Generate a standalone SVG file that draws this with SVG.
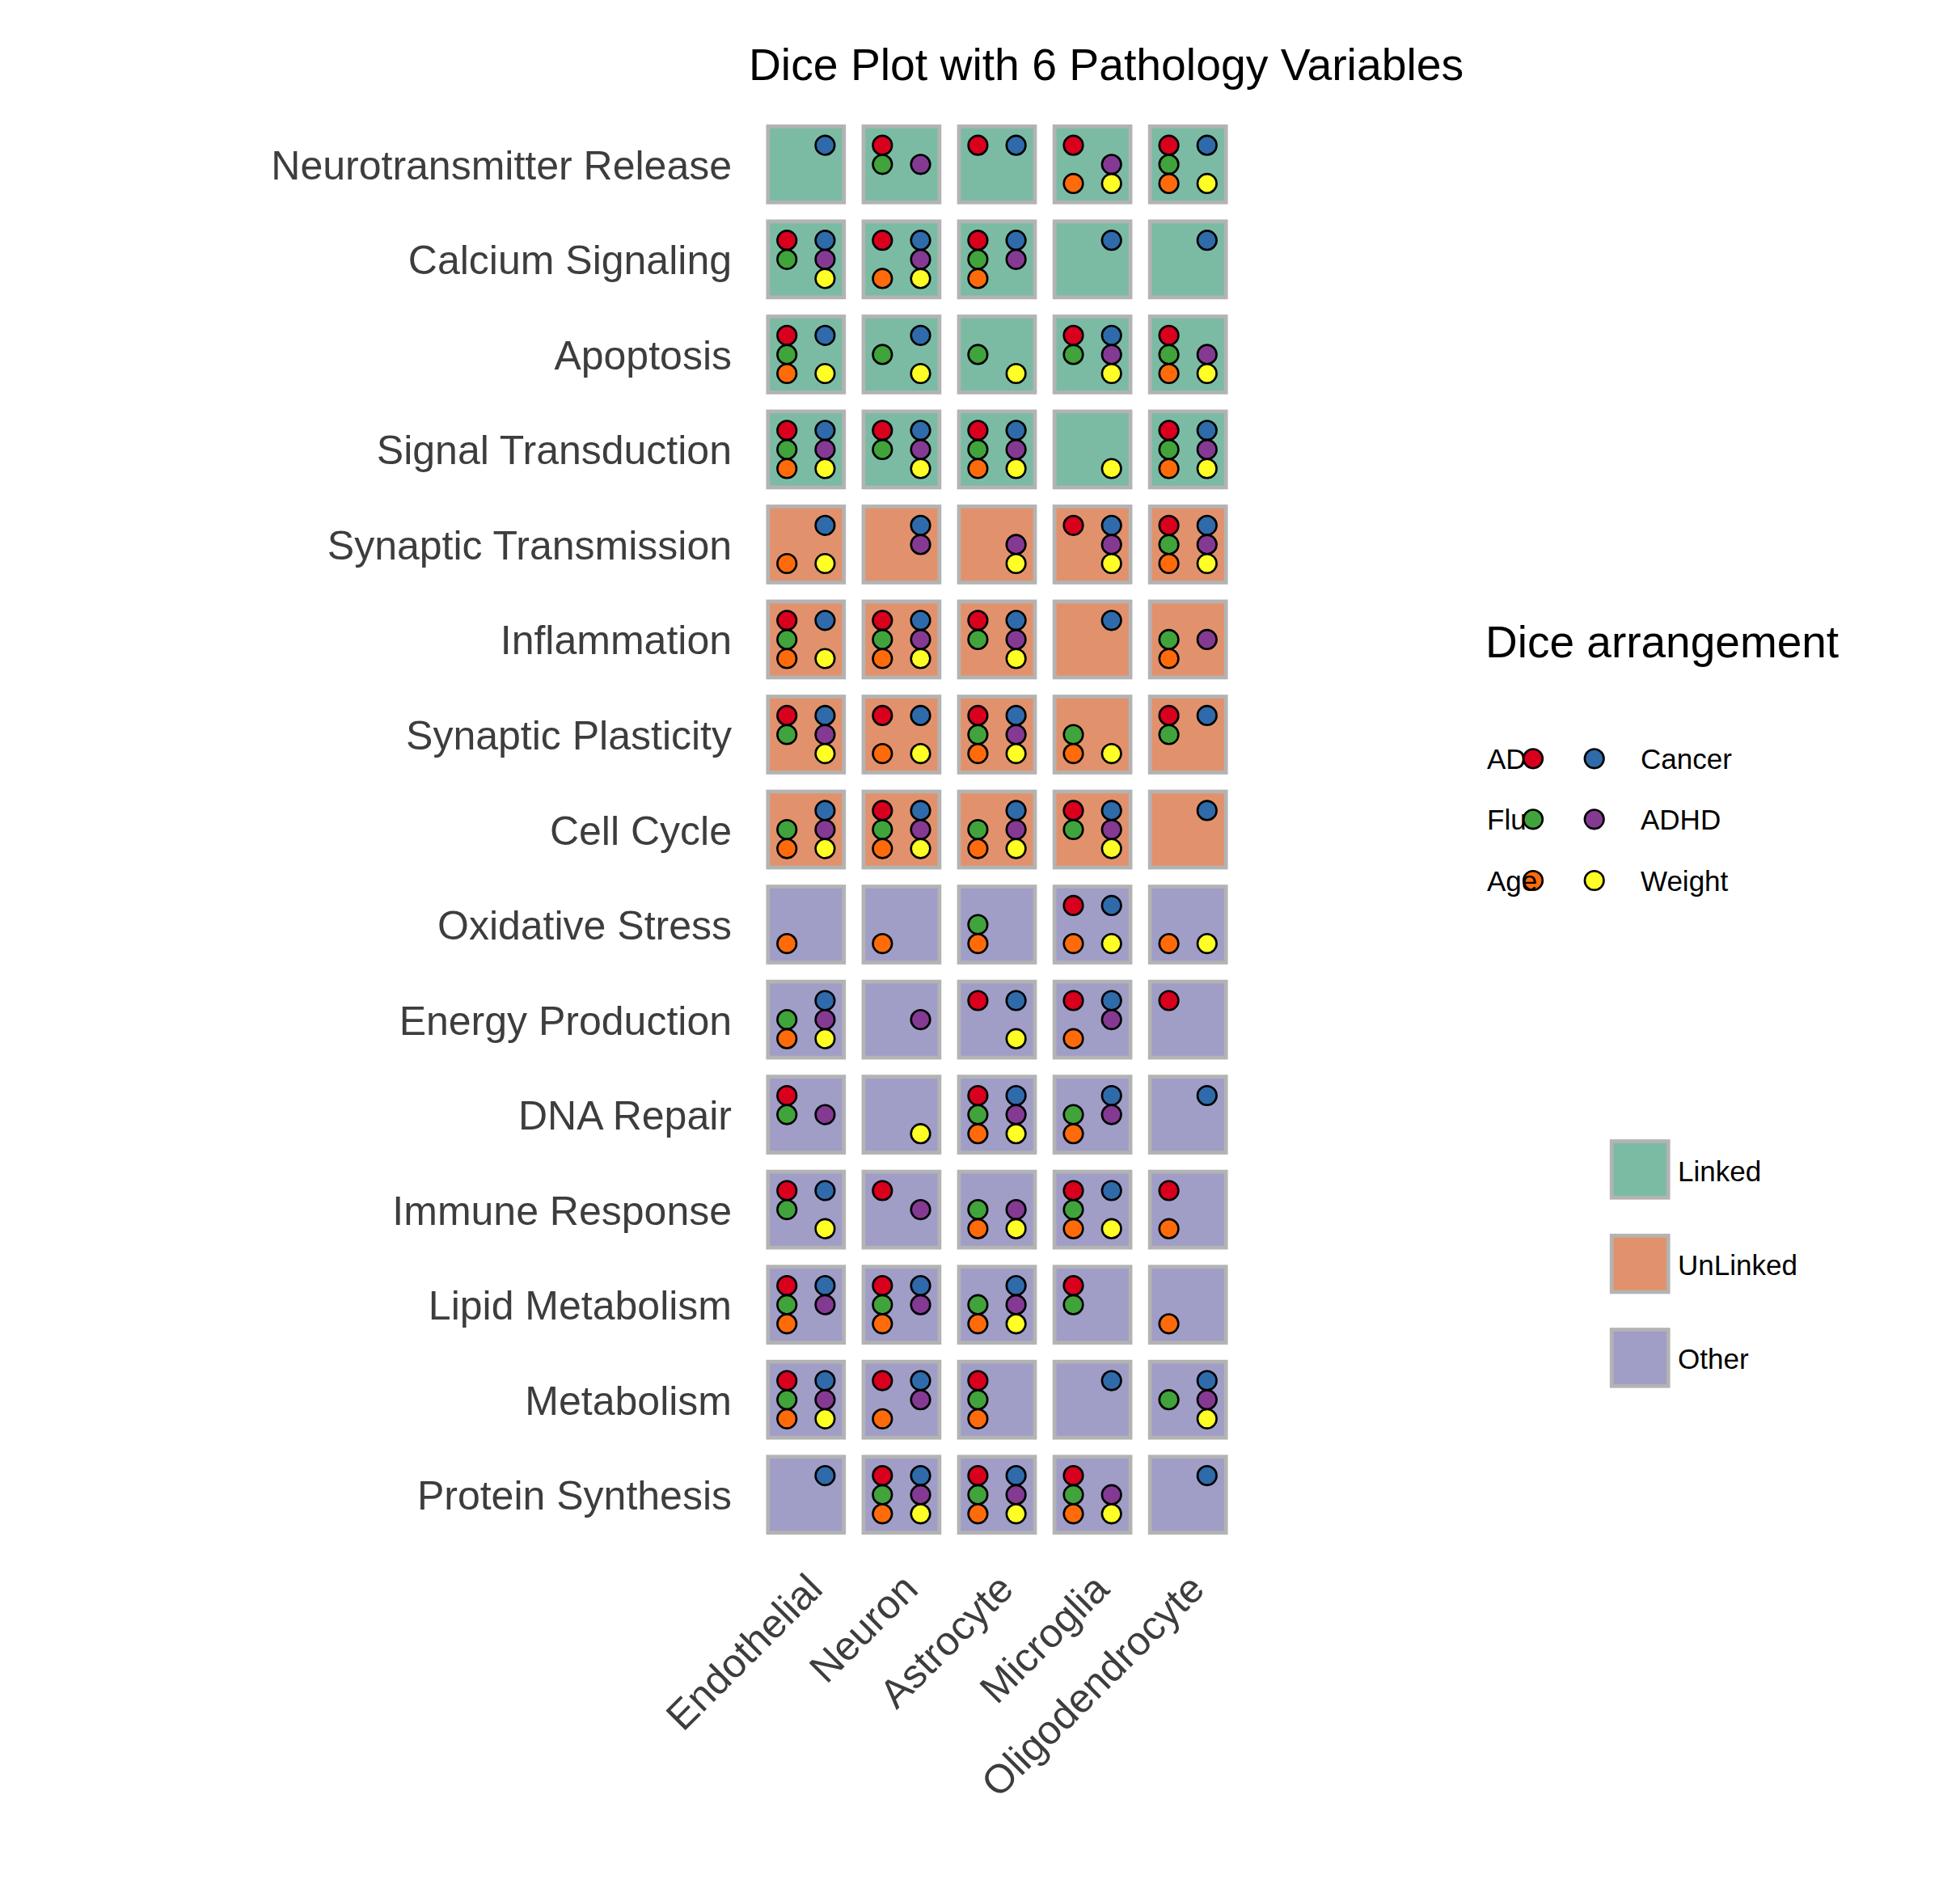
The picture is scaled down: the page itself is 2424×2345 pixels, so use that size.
<svg xmlns="http://www.w3.org/2000/svg" xmlns:xlink="http://www.w3.org/1999/xlink" width="2424" height="2345" viewBox="0 0 2424 2345">
<style>
text{font-family:"Liberation Sans",Arial,Helvetica,sans-serif}
.title{font-size:55.3px;fill:#000}
.ylab{font-size:50px;fill:#3d3d3d;text-anchor:end}
.xlab{font-size:50px;fill:#3d3d3d;text-anchor:end}
.ltitle{font-size:55px;fill:#000}
.llab{font-size:35px;fill:#000}
.tile{stroke:#b3b3b3;stroke-width:4.7}
.lk{fill:#7bbba4}
.ul{fill:#e1926c}
.ot{fill:#a09dc7}
.dot{stroke:#000;stroke-width:2.6}
.cA{fill:#d9001e}.cC{fill:#2f6baa}.cF{fill:#41a33b}.cH{fill:#843a92}.cG{fill:#ff6b0a}.cW{fill:#ffff26}
</style>
<defs>
<circle id="a" class="dot cA" cx="-23.6" cy="-23.6" r="11.8"/>
<circle id="c" class="dot cC" cx="23.6" cy="-23.6" r="11.8"/>
<circle id="f" class="dot cF" cx="-23.6" cy="0" r="11.8"/>
<circle id="h" class="dot cH" cx="23.6" cy="0" r="11.8"/>
<circle id="g" class="dot cG" cx="-23.6" cy="23.6" r="11.8"/>
<circle id="w" class="dot cW" cx="23.6" cy="23.6" r="11.8"/>
</defs>
<rect width="2424" height="2345" fill="#fff"/>
<text class="title" x="1368" y="99" text-anchor="middle">Dice Plot with 6 Pathology Variables</text>
<g id="y-axis-labels">
<text class="ylab" x="905" y="221.8">Neurotransmitter Release</text>
<text class="ylab" x="905" y="339.3">Calcium Signaling</text>
<text class="ylab" x="905" y="456.9">Apoptosis</text>
<text class="ylab" x="905" y="574.4">Signal Transduction</text>
<text class="ylab" x="905" y="691.9">Synaptic Transmission</text>
<text class="ylab" x="905" y="809.4">Inflammation</text>
<text class="ylab" x="905" y="927.0">Synaptic Plasticity</text>
<text class="ylab" x="905" y="1044.5">Cell Cycle</text>
<text class="ylab" x="905" y="1162.0">Oxidative Stress</text>
<text class="ylab" x="905" y="1279.6">Energy Production</text>
<text class="ylab" x="905" y="1397.1">DNA Repair</text>
<text class="ylab" x="905" y="1514.6">Immune Response</text>
<text class="ylab" x="905" y="1632.2">Lipid Metabolism</text>
<text class="ylab" x="905" y="1749.7">Metabolism</text>
<text class="ylab" x="905" y="1867.2">Protein Synthesis</text>
</g>
<g id="x-axis-labels">
<text class="xlab" x="1019.8" y="1968" transform="rotate(-45 1019.8 1968)">Endothelial</text>
<text class="xlab" x="1137.9" y="1968" transform="rotate(-45 1137.9 1968)">Neuron</text>
<text class="xlab" x="1256.0" y="1968" transform="rotate(-45 1256.0 1968)">Astrocyte</text>
<text class="xlab" x="1374.1" y="1968" transform="rotate(-45 1374.1 1968)">Microglia</text>
<text class="xlab" x="1492.2" y="1968" transform="rotate(-45 1492.2 1968)">Oligodendrocyte</text>
</g>
<g id="tiles">
<!-- Row 1 Neurotransmitter Release -->
<g id="t-1-1" transform="translate(996.8 203.3)"><rect class="tile lk" x="-47" y="-47" width="94" height="94"/><use href="#c"/></g>
<g id="t-1-2" transform="translate(1114.9 203.3)"><rect class="tile lk" x="-47" y="-47" width="94" height="94"/><use href="#a"/><use href="#f"/><use href="#h"/></g>
<g id="t-1-3" transform="translate(1233.0 203.3)"><rect class="tile lk" x="-47" y="-47" width="94" height="94"/><use href="#a"/><use href="#c"/></g>
<g id="t-1-4" transform="translate(1351.1 203.3)"><rect class="tile lk" x="-47" y="-47" width="94" height="94"/><use href="#a"/><use href="#h"/><use href="#g"/><use href="#w"/></g>
<g id="t-1-5" transform="translate(1469.2 203.3)"><rect class="tile lk" x="-47" y="-47" width="94" height="94"/><use href="#a"/><use href="#c"/><use href="#f"/><use href="#g"/><use href="#w"/></g>
<!-- Row 2 Calcium Signaling -->
<g id="t-2-1" transform="translate(996.8 320.8)"><rect class="tile lk" x="-47" y="-47" width="94" height="94"/><use href="#a"/><use href="#c"/><use href="#f"/><use href="#h"/><use href="#w"/></g>
<g id="t-2-2" transform="translate(1114.9 320.8)"><rect class="tile lk" x="-47" y="-47" width="94" height="94"/><use href="#a"/><use href="#c"/><use href="#h"/><use href="#g"/><use href="#w"/></g>
<g id="t-2-3" transform="translate(1233.0 320.8)"><rect class="tile lk" x="-47" y="-47" width="94" height="94"/><use href="#a"/><use href="#c"/><use href="#f"/><use href="#h"/><use href="#g"/></g>
<g id="t-2-4" transform="translate(1351.1 320.8)"><rect class="tile lk" x="-47" y="-47" width="94" height="94"/><use href="#c"/></g>
<g id="t-2-5" transform="translate(1469.2 320.8)"><rect class="tile lk" x="-47" y="-47" width="94" height="94"/><use href="#c"/></g>
<!-- Row 3 Apoptosis -->
<g id="t-3-1" transform="translate(996.8 438.4)"><rect class="tile lk" x="-47" y="-47" width="94" height="94"/><use href="#a"/><use href="#c"/><use href="#f"/><use href="#g"/><use href="#w"/></g>
<g id="t-3-2" transform="translate(1114.9 438.4)"><rect class="tile lk" x="-47" y="-47" width="94" height="94"/><use href="#c"/><use href="#f"/><use href="#w"/></g>
<g id="t-3-3" transform="translate(1233.0 438.4)"><rect class="tile lk" x="-47" y="-47" width="94" height="94"/><use href="#f"/><use href="#w"/></g>
<g id="t-3-4" transform="translate(1351.1 438.4)"><rect class="tile lk" x="-47" y="-47" width="94" height="94"/><use href="#a"/><use href="#c"/><use href="#f"/><use href="#h"/><use href="#w"/></g>
<g id="t-3-5" transform="translate(1469.2 438.4)"><rect class="tile lk" x="-47" y="-47" width="94" height="94"/><use href="#a"/><use href="#f"/><use href="#h"/><use href="#g"/><use href="#w"/></g>
<!-- Row 4 Signal Transduction -->
<g id="t-4-1" transform="translate(996.8 555.9)"><rect class="tile lk" x="-47" y="-47" width="94" height="94"/><use href="#a"/><use href="#c"/><use href="#f"/><use href="#h"/><use href="#g"/><use href="#w"/></g>
<g id="t-4-2" transform="translate(1114.9 555.9)"><rect class="tile lk" x="-47" y="-47" width="94" height="94"/><use href="#a"/><use href="#c"/><use href="#f"/><use href="#h"/><use href="#w"/></g>
<g id="t-4-3" transform="translate(1233.0 555.9)"><rect class="tile lk" x="-47" y="-47" width="94" height="94"/><use href="#a"/><use href="#c"/><use href="#f"/><use href="#h"/><use href="#g"/><use href="#w"/></g>
<g id="t-4-4" transform="translate(1351.1 555.9)"><rect class="tile lk" x="-47" y="-47" width="94" height="94"/><use href="#w"/></g>
<g id="t-4-5" transform="translate(1469.2 555.9)"><rect class="tile lk" x="-47" y="-47" width="94" height="94"/><use href="#a"/><use href="#c"/><use href="#f"/><use href="#h"/><use href="#g"/><use href="#w"/></g>
<!-- Row 5 Synaptic Transmission -->
<g id="t-5-1" transform="translate(996.8 673.4)"><rect class="tile ul" x="-47" y="-47" width="94" height="94"/><use href="#c"/><use href="#g"/><use href="#w"/></g>
<g id="t-5-2" transform="translate(1114.9 673.4)"><rect class="tile ul" x="-47" y="-47" width="94" height="94"/><use href="#c"/><use href="#h"/></g>
<g id="t-5-3" transform="translate(1233.0 673.4)"><rect class="tile ul" x="-47" y="-47" width="94" height="94"/><use href="#h"/><use href="#w"/></g>
<g id="t-5-4" transform="translate(1351.1 673.4)"><rect class="tile ul" x="-47" y="-47" width="94" height="94"/><use href="#a"/><use href="#c"/><use href="#h"/><use href="#w"/></g>
<g id="t-5-5" transform="translate(1469.2 673.4)"><rect class="tile ul" x="-47" y="-47" width="94" height="94"/><use href="#a"/><use href="#c"/><use href="#f"/><use href="#h"/><use href="#g"/><use href="#w"/></g>
<!-- Row 6 Inflammation -->
<g id="t-6-1" transform="translate(996.8 790.9)"><rect class="tile ul" x="-47" y="-47" width="94" height="94"/><use href="#a"/><use href="#c"/><use href="#f"/><use href="#g"/><use href="#w"/></g>
<g id="t-6-2" transform="translate(1114.9 790.9)"><rect class="tile ul" x="-47" y="-47" width="94" height="94"/><use href="#a"/><use href="#c"/><use href="#f"/><use href="#h"/><use href="#g"/><use href="#w"/></g>
<g id="t-6-3" transform="translate(1233.0 790.9)"><rect class="tile ul" x="-47" y="-47" width="94" height="94"/><use href="#a"/><use href="#c"/><use href="#f"/><use href="#h"/><use href="#w"/></g>
<g id="t-6-4" transform="translate(1351.1 790.9)"><rect class="tile ul" x="-47" y="-47" width="94" height="94"/><use href="#c"/></g>
<g id="t-6-5" transform="translate(1469.2 790.9)"><rect class="tile ul" x="-47" y="-47" width="94" height="94"/><use href="#f"/><use href="#h"/><use href="#g"/></g>
<!-- Row 7 Synaptic Plasticity -->
<g id="t-7-1" transform="translate(996.8 908.5)"><rect class="tile ul" x="-47" y="-47" width="94" height="94"/><use href="#a"/><use href="#c"/><use href="#f"/><use href="#h"/><use href="#w"/></g>
<g id="t-7-2" transform="translate(1114.9 908.5)"><rect class="tile ul" x="-47" y="-47" width="94" height="94"/><use href="#a"/><use href="#c"/><use href="#g"/><use href="#w"/></g>
<g id="t-7-3" transform="translate(1233.0 908.5)"><rect class="tile ul" x="-47" y="-47" width="94" height="94"/><use href="#a"/><use href="#c"/><use href="#f"/><use href="#h"/><use href="#g"/><use href="#w"/></g>
<g id="t-7-4" transform="translate(1351.1 908.5)"><rect class="tile ul" x="-47" y="-47" width="94" height="94"/><use href="#f"/><use href="#g"/><use href="#w"/></g>
<g id="t-7-5" transform="translate(1469.2 908.5)"><rect class="tile ul" x="-47" y="-47" width="94" height="94"/><use href="#a"/><use href="#c"/><use href="#f"/></g>
<!-- Row 8 Cell Cycle -->
<g id="t-8-1" transform="translate(996.8 1026.0)"><rect class="tile ul" x="-47" y="-47" width="94" height="94"/><use href="#c"/><use href="#f"/><use href="#h"/><use href="#g"/><use href="#w"/></g>
<g id="t-8-2" transform="translate(1114.9 1026.0)"><rect class="tile ul" x="-47" y="-47" width="94" height="94"/><use href="#a"/><use href="#c"/><use href="#f"/><use href="#h"/><use href="#g"/><use href="#w"/></g>
<g id="t-8-3" transform="translate(1233.0 1026.0)"><rect class="tile ul" x="-47" y="-47" width="94" height="94"/><use href="#c"/><use href="#f"/><use href="#h"/><use href="#g"/><use href="#w"/></g>
<g id="t-8-4" transform="translate(1351.1 1026.0)"><rect class="tile ul" x="-47" y="-47" width="94" height="94"/><use href="#a"/><use href="#c"/><use href="#f"/><use href="#h"/><use href="#w"/></g>
<g id="t-8-5" transform="translate(1469.2 1026.0)"><rect class="tile ul" x="-47" y="-47" width="94" height="94"/><use href="#c"/></g>
<!-- Row 9 Oxidative Stress -->
<g id="t-9-1" transform="translate(996.8 1143.5)"><rect class="tile ot" x="-47" y="-47" width="94" height="94"/><use href="#g"/></g>
<g id="t-9-2" transform="translate(1114.9 1143.5)"><rect class="tile ot" x="-47" y="-47" width="94" height="94"/><use href="#g"/></g>
<g id="t-9-3" transform="translate(1233.0 1143.5)"><rect class="tile ot" x="-47" y="-47" width="94" height="94"/><use href="#f"/><use href="#g"/></g>
<g id="t-9-4" transform="translate(1351.1 1143.5)"><rect class="tile ot" x="-47" y="-47" width="94" height="94"/><use href="#a"/><use href="#c"/><use href="#g"/><use href="#w"/></g>
<g id="t-9-5" transform="translate(1469.2 1143.5)"><rect class="tile ot" x="-47" y="-47" width="94" height="94"/><use href="#g"/><use href="#w"/></g>
<!-- Row 10 Energy Production -->
<g id="t-10-1" transform="translate(996.8 1261.1)"><rect class="tile ot" x="-47" y="-47" width="94" height="94"/><use href="#c"/><use href="#f"/><use href="#h"/><use href="#g"/><use href="#w"/></g>
<g id="t-10-2" transform="translate(1114.9 1261.1)"><rect class="tile ot" x="-47" y="-47" width="94" height="94"/><use href="#h"/></g>
<g id="t-10-3" transform="translate(1233.0 1261.1)"><rect class="tile ot" x="-47" y="-47" width="94" height="94"/><use href="#a"/><use href="#c"/><use href="#w"/></g>
<g id="t-10-4" transform="translate(1351.1 1261.1)"><rect class="tile ot" x="-47" y="-47" width="94" height="94"/><use href="#a"/><use href="#c"/><use href="#h"/><use href="#g"/></g>
<g id="t-10-5" transform="translate(1469.2 1261.1)"><rect class="tile ot" x="-47" y="-47" width="94" height="94"/><use href="#a"/></g>
<!-- Row 11 DNA Repair -->
<g id="t-11-1" transform="translate(996.8 1378.6)"><rect class="tile ot" x="-47" y="-47" width="94" height="94"/><use href="#a"/><use href="#f"/><use href="#h"/></g>
<g id="t-11-2" transform="translate(1114.9 1378.6)"><rect class="tile ot" x="-47" y="-47" width="94" height="94"/><use href="#w"/></g>
<g id="t-11-3" transform="translate(1233.0 1378.6)"><rect class="tile ot" x="-47" y="-47" width="94" height="94"/><use href="#a"/><use href="#c"/><use href="#f"/><use href="#h"/><use href="#g"/><use href="#w"/></g>
<g id="t-11-4" transform="translate(1351.1 1378.6)"><rect class="tile ot" x="-47" y="-47" width="94" height="94"/><use href="#c"/><use href="#f"/><use href="#h"/><use href="#g"/></g>
<g id="t-11-5" transform="translate(1469.2 1378.6)"><rect class="tile ot" x="-47" y="-47" width="94" height="94"/><use href="#c"/></g>
<!-- Row 12 Immune Response -->
<g id="t-12-1" transform="translate(996.8 1496.1)"><rect class="tile ot" x="-47" y="-47" width="94" height="94"/><use href="#a"/><use href="#c"/><use href="#f"/><use href="#w"/></g>
<g id="t-12-2" transform="translate(1114.9 1496.1)"><rect class="tile ot" x="-47" y="-47" width="94" height="94"/><use href="#a"/><use href="#h"/></g>
<g id="t-12-3" transform="translate(1233.0 1496.1)"><rect class="tile ot" x="-47" y="-47" width="94" height="94"/><use href="#f"/><use href="#h"/><use href="#g"/><use href="#w"/></g>
<g id="t-12-4" transform="translate(1351.1 1496.1)"><rect class="tile ot" x="-47" y="-47" width="94" height="94"/><use href="#a"/><use href="#c"/><use href="#f"/><use href="#g"/><use href="#w"/></g>
<g id="t-12-5" transform="translate(1469.2 1496.1)"><rect class="tile ot" x="-47" y="-47" width="94" height="94"/><use href="#a"/><use href="#g"/></g>
<!-- Row 13 Lipid Metabolism -->
<g id="t-13-1" transform="translate(996.8 1613.7)"><rect class="tile ot" x="-47" y="-47" width="94" height="94"/><use href="#a"/><use href="#c"/><use href="#f"/><use href="#h"/><use href="#g"/></g>
<g id="t-13-2" transform="translate(1114.9 1613.7)"><rect class="tile ot" x="-47" y="-47" width="94" height="94"/><use href="#a"/><use href="#c"/><use href="#f"/><use href="#h"/><use href="#g"/></g>
<g id="t-13-3" transform="translate(1233.0 1613.7)"><rect class="tile ot" x="-47" y="-47" width="94" height="94"/><use href="#c"/><use href="#f"/><use href="#h"/><use href="#g"/><use href="#w"/></g>
<g id="t-13-4" transform="translate(1351.1 1613.7)"><rect class="tile ot" x="-47" y="-47" width="94" height="94"/><use href="#a"/><use href="#f"/></g>
<g id="t-13-5" transform="translate(1469.2 1613.7)"><rect class="tile ot" x="-47" y="-47" width="94" height="94"/><use href="#g"/></g>
<!-- Row 14 Metabolism -->
<g id="t-14-1" transform="translate(996.8 1731.2)"><rect class="tile ot" x="-47" y="-47" width="94" height="94"/><use href="#a"/><use href="#c"/><use href="#f"/><use href="#h"/><use href="#g"/><use href="#w"/></g>
<g id="t-14-2" transform="translate(1114.9 1731.2)"><rect class="tile ot" x="-47" y="-47" width="94" height="94"/><use href="#a"/><use href="#c"/><use href="#h"/><use href="#g"/></g>
<g id="t-14-3" transform="translate(1233.0 1731.2)"><rect class="tile ot" x="-47" y="-47" width="94" height="94"/><use href="#a"/><use href="#f"/><use href="#g"/></g>
<g id="t-14-4" transform="translate(1351.1 1731.2)"><rect class="tile ot" x="-47" y="-47" width="94" height="94"/><use href="#c"/></g>
<g id="t-14-5" transform="translate(1469.2 1731.2)"><rect class="tile ot" x="-47" y="-47" width="94" height="94"/><use href="#c"/><use href="#f"/><use href="#h"/><use href="#w"/></g>
<!-- Row 15 Protein Synthesis -->
<g id="t-15-1" transform="translate(996.8 1848.7)"><rect class="tile ot" x="-47" y="-47" width="94" height="94"/><use href="#c"/></g>
<g id="t-15-2" transform="translate(1114.9 1848.7)"><rect class="tile ot" x="-47" y="-47" width="94" height="94"/><use href="#a"/><use href="#c"/><use href="#f"/><use href="#h"/><use href="#g"/><use href="#w"/></g>
<g id="t-15-3" transform="translate(1233.0 1848.7)"><rect class="tile ot" x="-47" y="-47" width="94" height="94"/><use href="#a"/><use href="#c"/><use href="#f"/><use href="#h"/><use href="#g"/><use href="#w"/></g>
<g id="t-15-4" transform="translate(1351.1 1848.7)"><rect class="tile ot" x="-47" y="-47" width="94" height="94"/><use href="#a"/><use href="#f"/><use href="#h"/><use href="#g"/><use href="#w"/></g>
<g id="t-15-5" transform="translate(1469.2 1848.7)"><rect class="tile ot" x="-47" y="-47" width="94" height="94"/><use href="#c"/></g>
</g>
<g id="connectors"/>
<g id="legend-dice">
<text class="ltitle" x="1837" y="812.7">Dice arrangement</text>
<text class="llab" x="1839" y="951">AD</text>
<text class="llab" x="1839" y="1026">Flu</text>
<circle class="dot cA" cx="1896" cy="938.3" r="11.8"/>
<circle class="dot cC" cx="1971.7" cy="938.3" r="11.8"/>
<circle class="dot cF" cx="1896" cy="1013.3" r="11.8"/>
<circle class="dot cH" cx="1971.7" cy="1013.3" r="11.8"/>
<circle class="dot cG" cx="1896" cy="1089" r="11.8"/>
<circle class="dot cW" cx="1971.7" cy="1089" r="11.8"/>
<text class="llab" x="1839" y="1101.7">Age</text>
<text class="llab" x="2029" y="951">Cancer</text>
<text class="llab" x="2029" y="1026">ADHD</text>
<text class="llab" x="2029" y="1101.7">Weight</text>
</g>
<g id="legend-fill">
<rect class="tile lk" x="1993.2" y="1411.5" width="70" height="69.8"/>
<text class="llab" x="2075" y="1460.7">Linked</text>
<rect class="tile ul" x="1993.2" y="1528.2" width="70" height="69.8"/>
<text class="llab" x="2075" y="1576.7">UnLinked</text>
<rect class="tile ot" x="1993.2" y="1644.5" width="70" height="69.8"/>
<text class="llab" x="2075" y="1693.3">Other</text>
</g>
</svg>
